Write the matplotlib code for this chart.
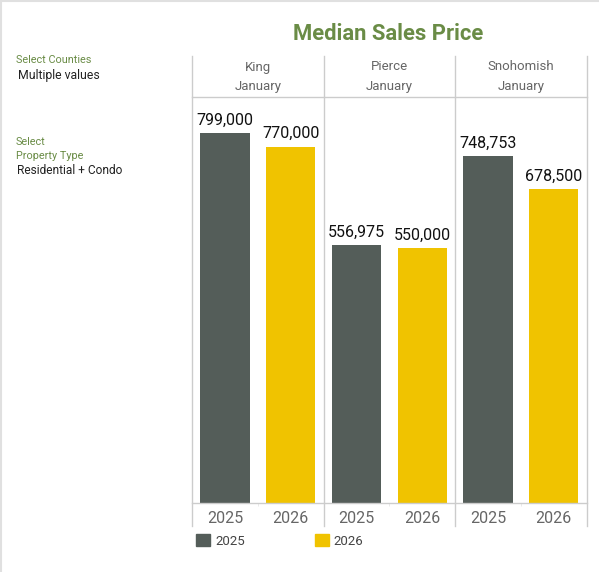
import matplotlib.pyplot as plt
from matplotlib.lines import Line2D
from matplotlib.patches import Patch

plt.rcParams['font.family'] = ['Roboto', 'DejaVu Sans']

counties = ["King", "Pierce", "Snohomish"]
month = "January"
years = ["2025", "2026"]
price_2025 = [799000, 556975, 748753]
price_2026 = [770000, 550000, 678500]

dark = "#545d59"
gold = "#f0c300"
grid = "#cccccc"
green = "#6a8c46"

W, H = 599, 572
fig = plt.figure(figsize=(W / 100, H / 100), dpi=100)


def fx(px):
    return px / W


def fy(py):
    return 1 - py / H


# plot area in pixels: x 192..586.7, y 97..503
ax = fig.add_axes([fx(192), fy(503), fx(586.7) - fx(192), (503 - 97) / H])

x25 = [2 * i + 0.5 for i in range(len(counties))]
x26 = [2 * i + 1.5 for i in range(len(counties))]
b1 = ax.bar(x25, price_2025, width=0.75, color=dark)
b2 = ax.bar(x26, price_2026, width=0.75, color=gold)

ax.set_xlim(0, 2 * len(counties))
ax.set_ylim(0, 877000)

for xs, vals in [(x25, price_2025), (x26, price_2026)]:
    for x, v in zip(xs, vals):
        ax.annotate(f"{v:,}", (x, v), xytext=(0, 4), textcoords="offset points",
                    ha="center", va="bottom", fontsize=11.5, color="#111111")

ax.set_xticks(x25 + x26)
ax.set_xticklabels([years[0]] * 3 + [years[1]] * 3, fontsize=11.5, color="#666666")
ax.tick_params(axis="x", which="major", length=0, pad=6)
ax.set_xticks([1, 3, 5], minor=True)
ax.tick_params(axis="x", which="minor", length=2, color="#e6e6e6")
ax.set_yticks([])

for s in ["left", "right"]:
    ax.spines[s].set_visible(False)
for s in ["top", "bottom"]:
    ax.spines[s].set_color(grid)
    ax.spines[s].set_linewidth(1)

# panel separators extend into header and year row
hdr = (97 - 56) / 406
low = (526 - 503) / 406
for i in range(len(counties) + 1):
    ax.axvline(2 * i, ymin=-low, ymax=1 + hdr, color=grid, lw=1, clip_on=False)

tr = ax.get_xaxis_transform()
for i, c in enumerate(counties):
    ax.text(2 * i + 1, 1 + (97 - 67) / 406, c, transform=tr, ha="center", va="center",
            fontsize=9.5, color="#666666")
    ax.text(2 * i + 1, 1 + (97 - 87) / 406, month, transform=tr, ha="center", va="center",
            fontsize=9.5, color="#666666")

fig.text(fx(388), fy(34), "Median Sales Price", ha="center", va="center",
         fontsize=15.8, fontweight="bold", color=green)

fig.text(fx(16), fy(60), "Select Counties", fontsize=7.8, color=green, va="center")
fig.text(fx(18), fy(75), "Multiple values", fontsize=8.8, color="#222222", va="center")
fig.text(fx(16), fy(142), "Select", fontsize=7.8, color=green, va="center")
fig.text(fx(16), fy(156), "Property Type", fontsize=7.8, color=green, va="center")
fig.text(fx(17), fy(171), "Residential + Condo", fontsize=8.6, color="#222222", va="center")

handles = [Patch(color=dark, label=years[0]), Patch(color=gold, label=years[1])]
fig.legend(handles=handles, loc="center left", bbox_to_anchor=(fx(184), fy(541)),
           ncol=2, frameon=False, fontsize=9.5, handlelength=1.05, handleheight=1.05,
           handletextpad=0.4, columnspacing=5.3, labelcolor="#444444")

# faint outer border on top and left
fig.add_artist(Line2D([0, 1], [1 - 0.5 / H, 1 - 0.5 / H], transform=fig.transFigure,
                      color="#e0e0e0", lw=1.5))
fig.add_artist(Line2D([0.5 / W, 0.5 / W], [0, 1], transform=fig.transFigure,
                      color="#e0e0e0", lw=1.5))

fig.savefig("out.png", dpi=100)
